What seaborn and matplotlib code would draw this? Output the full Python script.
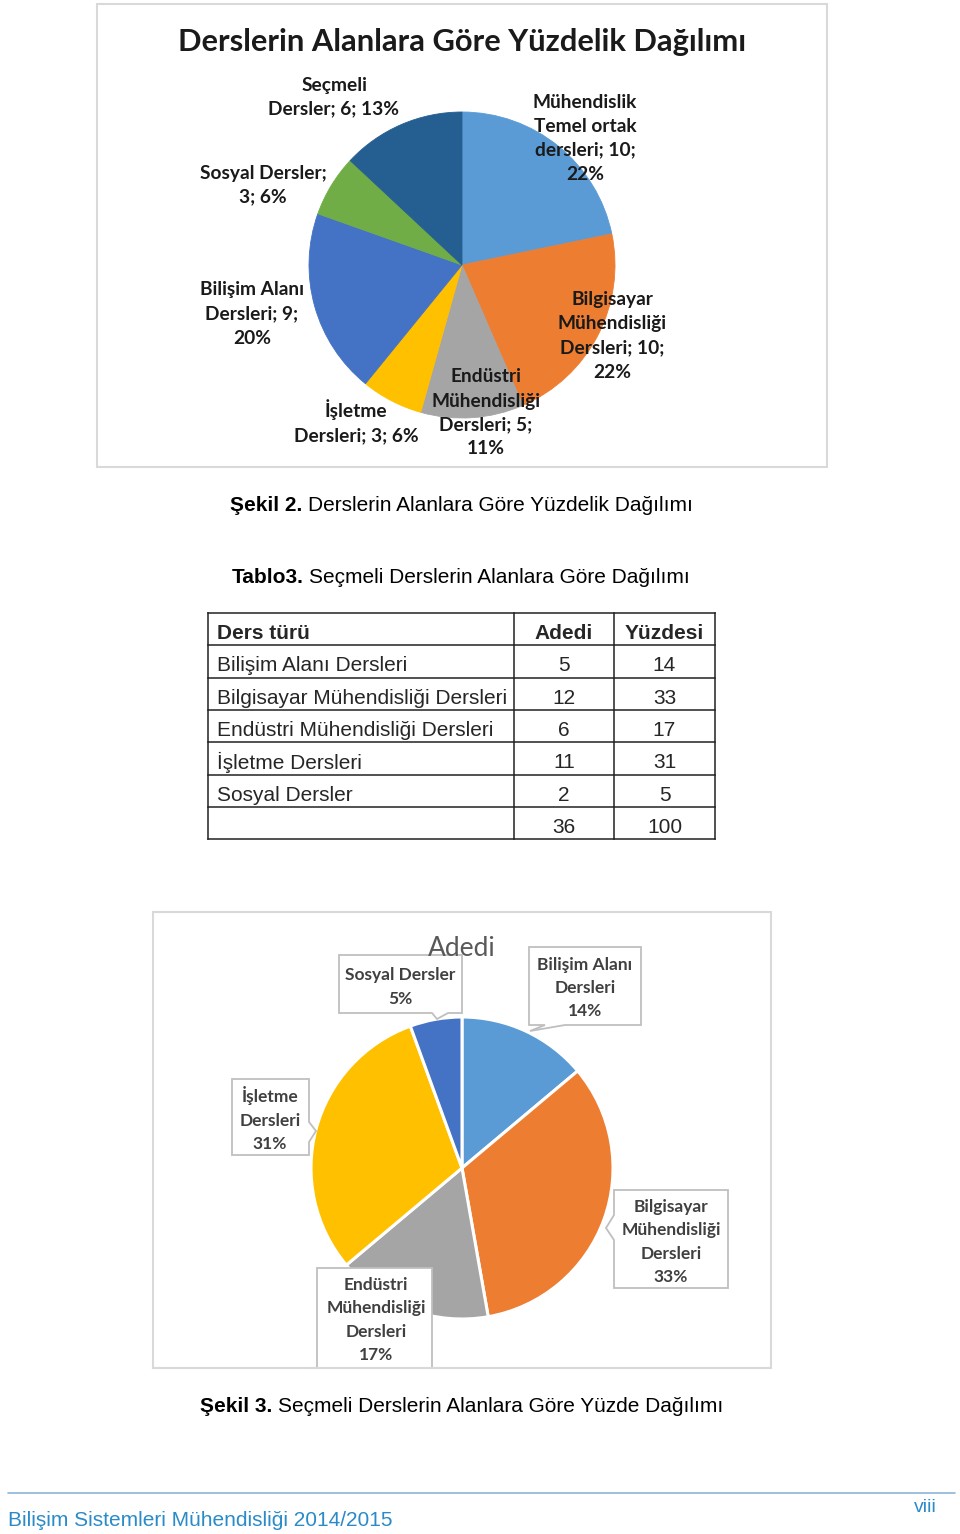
import matplotlib
matplotlib.use("Agg")
import matplotlib.pyplot as plt
import seaborn as sns
from matplotlib.patches import Rectangle, Polygon

# ---------------- data ----------------
pie1_title = "Derslerin Alanlara Göre Yüzdelik Dağılımı"
pie1_categories = ["Mühendislik Temel ortak dersleri", "Bilgisayar Mühendisliği Dersleri",
                   "Endüstri Mühendisliği Dersleri", "İşletme Dersleri",
                   "Bilişim Alanı Dersleri", "Sosyal Dersler", "Seçmeli Dersler"]
pie1_values = [10, 10, 5, 3, 9, 3, 6]
pie1_pcts = [22, 22, 11, 6, 20, 6, 13]
pie1_label_text = ["Mühendislik\nTemel ortak\ndersleri; 10;\n22%",
                   "Bilgisayar\nMühendisliği\nDersleri; 10;\n22%",
                   "Endüstri\nMühendisliği\nDersleri; 5;\n11%",
                   "İşletme\nDersleri; 3; 6%",
                   "Bilişim Alanı\nDersleri; 9;\n20%",
                   "Sosyal Dersler;\n3; 6%",
                   "Seçmeli\nDersler; 6; 13%"]
pie1_colors = ["#5B9BD5", "#ED7D31", "#A5A5A5", "#FFC000", "#4472C4", "#70AD47", "#255E91"]

table_header = ["Ders türü", "Adedi", "Yüzdesi"]
table_types = ["Bilişim Alanı Dersleri", "Bilgisayar Mühendisliği Dersleri",
               "Endüstri Mühendisliği Dersleri", "İşletme Dersleri", "Sosyal Dersler"]
table_counts = [5, 12, 6, 11, 2]
table_pcts = [14, 33, 17, 31, 5]
table_total_count = 36
table_total_pct = 100

pie2_title = "Adedi"
pie2_label_names = ["Bilişim Alanı\nDersleri", "Bilgisayar\nMühendisliği\nDersleri",
                    "Endüstri\nMühendisliği\nDersleri", "İşletme\nDersleri", "Sosyal Dersler"]
pie2_colors = ["#5B9BD5", "#ED7D31", "#A5A5A5", "#FFC000", "#4472C4"]

caption1 = ("Şekil 2.", "Derslerin Alanlara Göre Yüzdelik Dağılımı")
caption_table = ("Tablo3.", "Seçmeli Derslerin Alanlara Göre Dağılımı")
caption2 = ("Şekil 3.", "Seçmeli Derslerin Alanlara Göre Yüzde Dağılımı")
footer_text = "Bilişim Sistemleri Mühendisliği 2014/2015"
page_no = "viii"

# ---------------- style ----------------
sns.set_theme(style="white")
plt.rcParams['font.family'] = ['Liberation Sans', 'DejaVu Sans']
CHART_FONT = ['Lato', 'DejaVu Sans']
pal1 = sns.color_palette(pie1_colors)
pal2 = sns.color_palette(pie2_colors)

W, H = 960, 1534
fig = plt.figure(figsize=(W / 100, H / 100), dpi=100)
fig.patch.set_facecolor("white")

def full_axes(z):
    a = fig.add_axes([0, 0, 1, 1], zorder=z)
    a.set_xlim(0, W)
    a.set_ylim(H, 0)
    a.axis('off')
    return a

bg = full_axes(0)
ov = full_axes(5)

def pie_axes(cx, cy, r):
    a = fig.add_axes([(cx - r) / W, 1 - (cy + r) / H, 2 * r / W, 2 * r / H], zorder=2)
    return a

renderer = fig.canvas.get_renderer()

def mixed(x, y, bold, normal, size, color="black"):
    t1 = ov.text(x, y, bold, fontsize=size, fontweight='bold', ha='left', va='baseline', color=color)
    bb = t1.get_window_extent(renderer=renderer)
    x1 = ov.transData.inverted().transform((bb.x1, bb.y0))[0]
    ov.text(x1 + size * 0.36, y, normal, fontsize=size, ha='left', va='baseline', color=color)

# ---------------- chart 1 ----------------
bg.add_patch(Rectangle((97, 4), 730, 463, fill=False, edgecolor="#D9D9D9", lw=1.5))
ov.text(462, 42, pie1_title, family=CHART_FONT, fontweight='bold', fontsize=22.2,
        ha='center', va='center', color="#1a1a1a")
ax1 = pie_axes(462, 265, 153)
ax1.pie(pie1_values, colors=pal1, startangle=90, counterclock=False, radius=1,
        wedgeprops=dict(linewidth=0.6))
for w, c in zip(ax1.patches, pal1):
    w.set_edgecolor(c)
ax1.set_xlim(-1, 1); ax1.set_ylim(-1, 1); ax1.set_aspect('equal'); ax1.axis('off')

pie1_label_pos = [(585, 138), (612, 336), (486, 413), (356, 422), (252, 314), (263, 185), (334, 97)]
for txt, (x, y) in zip(pie1_label_text, pie1_label_pos):
    ov.text(x, y, txt, family=CHART_FONT, fontweight='bold', fontsize=13.8, ha='center',
            va='center', multialignment='center', linespacing=1.5, color="#1a1a1a")

mixed(230, 511, caption1[0], caption1[1], 15)

# ---------------- table ----------------
mixed(232, 583, caption_table[0], caption_table[1], 15)
col_x = [208, 514, 614, 715]
row_y = [613 + 32.3 * i for i in range(8)]
for y in row_y:
    bg.plot([col_x[0], col_x[-1]], [y, y], color="#222222", lw=1.1, solid_capstyle='projecting')
for x in col_x:
    bg.plot([x, x], [row_y[0], row_y[-1]], color="#222222", lw=1.1, solid_capstyle='projecting')

def row_text(i, cells, bold=False):
    yc = (row_y[i] + row_y[i + 1]) / 2 + 4.5
    fw = 'bold' if bold else 'normal'
    ov.text(217, yc, cells[0], fontsize=15, fontweight=fw, ha='left', va='center')
    ov.text((col_x[1] + col_x[2]) / 2, yc, cells[1], fontsize=15, fontweight=fw, ha='center', va='center')
    ov.text((col_x[2] + col_x[3]) / 2, yc, cells[2], fontsize=15, fontweight=fw, ha='center', va='center')

row_text(0, table_header, bold=True)
for i, (t, c, p) in enumerate(zip(table_types, table_counts, table_pcts)):
    row_text(i + 1, [t, str(c), str(p)])
row_text(6, ["", str(table_total_count), str(table_total_pct)])

# ---------------- chart 2 ----------------
bg.add_patch(Rectangle((153, 912), 618, 456, fill=False, edgecolor="#D9D9D9", lw=1.5))
ov.text(462, 948, pie2_title, family=CHART_FONT, fontsize=19, ha='center', va='center', color="#595959")
ax2 = pie_axes(462, 1168, 151)
ax2.pie(table_counts, colors=pal2, startangle=90, counterclock=False, radius=1,
        wedgeprops=dict(linewidth=2.2, edgecolor='white'))
ax2.set_xlim(-1, 1); ax2.set_ylim(-1, 1); ax2.set_aspect('equal'); ax2.axis('off')

def callout(x0, y0, x1, y1, side=None, b0=None, b1=None, tip=None):
    pts = [(x0, y0)]
    if side == 'top':
        pts += [(b0, y0), tip, (b1, y0)]
    pts.append((x1, y0))
    if side == 'right':
        pts += [(x1, b0), tip, (x1, b1)]
    pts.append((x1, y1))
    if side == 'bottom':
        pts += [(b1, y1), tip, (b0, y1)]
    pts.append((x0, y1))
    if side == 'left':
        pts += [(x0, b1), tip, (x0, b0)]
    ov.add_patch(Polygon(pts, closed=True, facecolor='white', edgecolor="#BFBFBF", lw=1.3, zorder=1))

# boxes: (x0, y0, x1, y1, side, b0, b1, tip, text center)
boxes = [
    (529, 947, 641, 1025, 'bottom', 545, 565, (530, 1031), (585, 988)),
    (614, 1190, 728, 1288, 'left', 1215, 1240, (606, 1228), (671, 1242)),
    (317, 1268, 432, 1376, None, None, None, None, (376, 1320)),
    (232, 1079, 309, 1155, 'right', 1122, 1142, (316, 1131), (270, 1119)),
    (339, 955, 462, 1013, 'bottom', 432, 448, (437, 1019), (400, 987)),
]
for name, p, b in zip(pie2_label_names, table_pcts, boxes):
    x0, y0, x1, y1, side, b0, b1, tip, (tx, ty) = b
    callout(x0, y0, x1, y1, side, b0, b1, tip)
    ov.text(tx, ty, f"{name}\n{p}%", family=CHART_FONT, fontweight='bold', fontsize=12.5,
            ha='center', va='center', multialignment='center', linespacing=1.55,
            color="#404040", zorder=2)
# clip bottom of chart-2 area (box frame ends at 1368)
ov.add_patch(Rectangle((300, 1369), 150, 12, facecolor='white', edgecolor='none', zorder=3))
ov.plot([153, 771], [1368, 1368], color="#D9D9D9", lw=1.5, zorder=4)

mixed(200, 1412, caption2[0], caption2[1], 15)

# ---------------- footer ----------------
bg.plot([8, 955], [1493, 1493], color="#8DB4DA", lw=1.2)
ov.text(8, 1526, footer_text, fontsize=15, ha='left', va='baseline', color="#2A8BC8")
ov.text(937, 1512, page_no, fontsize=14, ha='right', va='baseline', color="#2A8BC8")

fig.savefig("out.png", dpi=100, facecolor="white")
